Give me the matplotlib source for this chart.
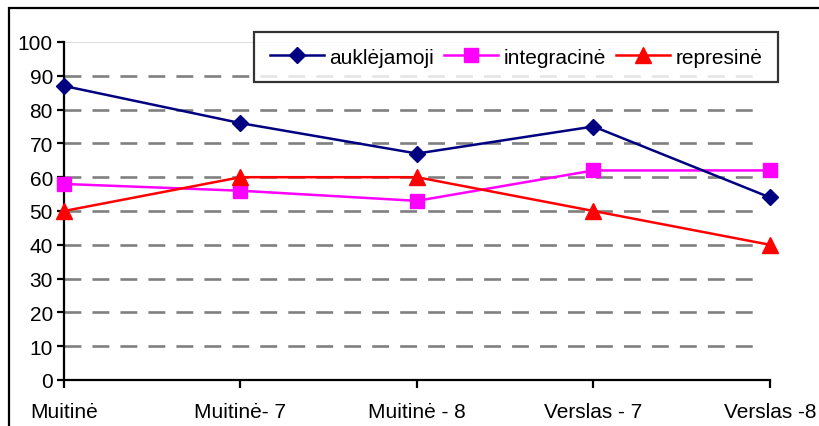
import matplotlib.pyplot as plt
from matplotlib.patches import Rectangle

plt.rcParams['font.family'] = ['Liberation Sans', 'DejaVu Sans']

groups = ["Muitinė", "Muitinė- 7", "Muitinė - 8", "Verslas - 7", "Verslas -8"]
aukl = [87, 76, 67, 75, 54]
integr = [58, 56, 53, 62, 62]
repres = [50, 60, 60, 50, 40]

fig = plt.figure(figsize=(8.2, 4.27), dpi=100, facecolor='white')
ax = fig.add_axes([64 / 820, 1 - 381 / 427, 706 / 820, 338 / 427])

# outer chart border (runs off the right and bottom edges)
fig.patches.append(Rectangle((9 / 820, -0.1), 1.0, 1 - 9 / 427 + 0.1,
                             transform=fig.transFigure, fill=False,
                             edgecolor='black', linewidth=1.6, zorder=0))

x = range(len(groups))
ax.plot(x, aukl, color='#000080', marker='D', markersize=8.5, linewidth=1.8,
        label='auklėjamoji', clip_on=False, zorder=5)
ax.plot(x, integr, color='#ff00ff', marker='s', markersize=10, linewidth=1.8,
        label='integracinė', clip_on=False, zorder=4)
ax.plot(x, repres, color='#ff0000', marker='^', markersize=11, linewidth=1.8,
        label='represinė', clip_on=False, zorder=6)

ax.set_xlim(0, 4)
ax.set_ylim(0, 100)
ax.set_yticks(range(0, 101, 10))
ax.set_xticks(list(x))
ax.set_xticklabels(groups)

for v in range(10, 100, 10):
    ax.axhline(v, color='#808080', linewidth=1.9, linestyle=(0, (6.4, 4.2)),
               zorder=1, xmax=0.99)
ax.axhline(100, color='#d8d8d8', linewidth=1.2, zorder=1)

for s in ['top', 'right']:
    ax.spines[s].set_visible(False)
for s in ['left', 'bottom']:
    ax.spines[s].set_linewidth(1.6)

ax.tick_params(axis='both', direction='out', length=5, width=1.6,
               labelsize=15, colors='black')
ax.tick_params(axis='x', length=6, pad=10)
ax.tick_params(axis='y', pad=3)

leg = fig.legend(loc='center', bbox_to_anchor=(516 / 820, 1 - 58 / 427),
                 ncol=3, fontsize=15, frameon=True, fancybox=False,
                 edgecolor='black', handlelength=2.6, handletextpad=0.25,
                 columnspacing=0.5, borderpad=0.75, borderaxespad=0)
leg.get_frame().set_linewidth(1.6)

fig.savefig('out.png', dpi=100, facecolor='white')
